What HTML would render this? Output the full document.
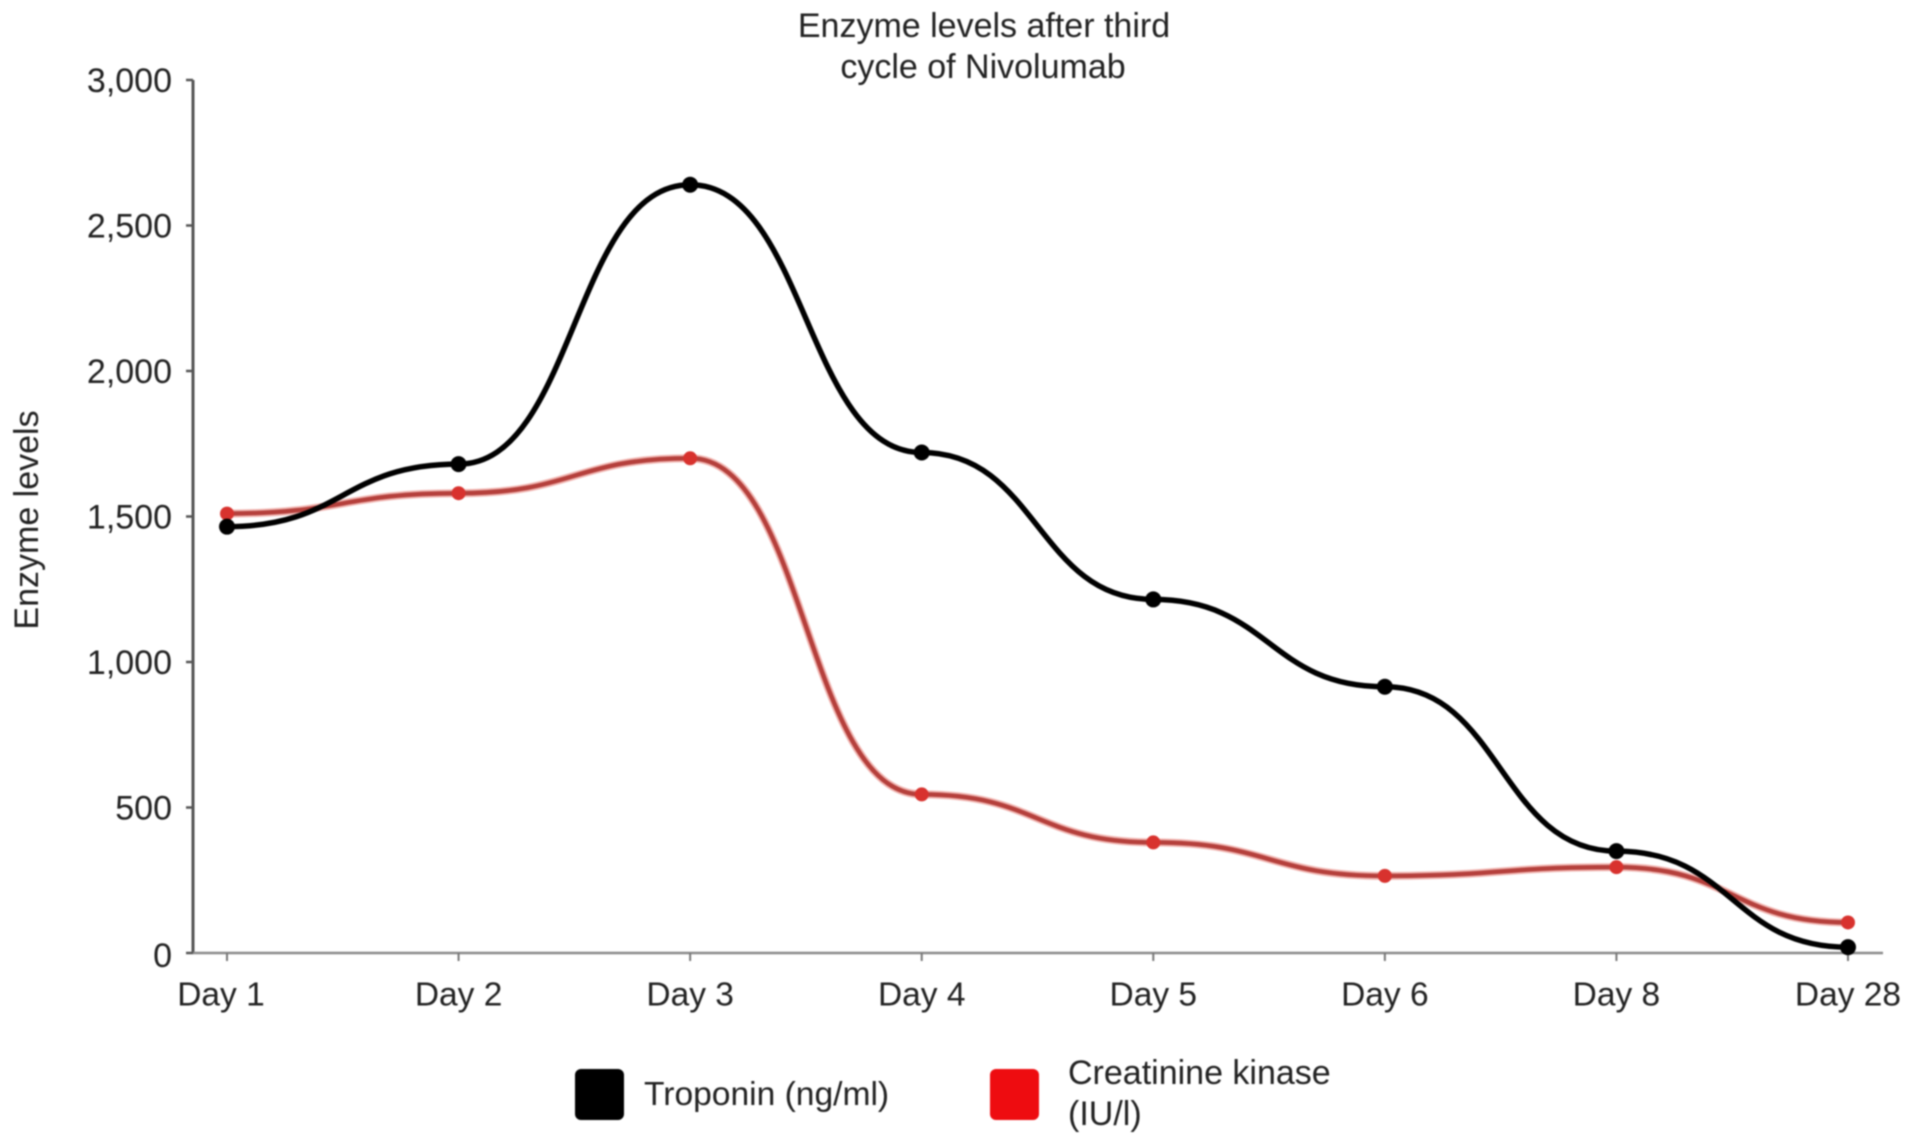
<!DOCTYPE html>
<html lang="en">
<head>
<meta charset="utf-8">
<title>Enzyme levels after third cycle of Nivolumab</title>
<style>
html,body{margin:0;padding:0;background:#fff;width:1913px;height:1145px;overflow:hidden}
svg{display:block;filter:blur(0.8px)}
text{font-family:"Liberation Sans",Arial,sans-serif;font-size:34px;fill:#222}
</style>
</head>
<body>
<svg id="chart" xmlns="http://www.w3.org/2000/svg" width="1913" height="1145" viewBox="0 0 1913 1145">
  <g>
    <text x="984" y="37" text-anchor="middle">Enzyme levels after third</text>
    <text x="983" y="78" text-anchor="middle">cycle of Nivolumab</text>
  </g>
  <text transform="translate(38,520) rotate(-90)" text-anchor="middle">Enzyme levels</text>
  <g id="axes"></g>
  <g id="series"></g>
  <g>
    <g>
      <rect x="575" y="1069" width="49" height="51" rx="6" fill="#000"/>
      <text x="644" y="1105" style="font-size:33.6px">Troponin (ng/ml)</text>
    </g>
    <g>
      <rect x="990" y="1069" width="49" height="51" rx="6" fill="#ee0c10"/>
      <text x="1068" y="1084">Creatinine kinase</text>
      <text x="1068" y="1125">(IU/l)</text>
    </g>
  </g>
</svg>
<script>
const categories = ["Day 1", "Day 2", "Day 3", "Day 4", "Day 5", "Day 6", "Day 8", "Day 28"];
const troponin = [1465, 1680, 2640, 1720, 1215, 915, 350, 20];
const creatinineKinase = [1510, 1580, 1700, 545, 380, 265, 295, 105];
const yTicks = [0, 500, 1000, 1500, 2000, 2500, 3000];

const NS = "http://www.w3.org/2000/svg";
const plot = { left: 193, right: 1883, top: 80, bottom: 953, firstX: 227, lastX: 1848, yMax: 3000 };
const xScale = i => plot.firstX + i * (plot.lastX - plot.firstX) / (categories.length - 1);
const yScale = v => plot.bottom - v / plot.yMax * (plot.bottom - plot.top);
const fmt = v => String(v).replace(/\B(?=(\d{3})+$)/g, ",");

function make(tag, attrs, parent) {
  const el = document.createElementNS(NS, tag);
  for (const k in attrs) el.setAttribute(k, attrs[k]);
  parent.appendChild(el);
  return el;
}

const axes = document.getElementById("axes");
const seriesLayer = document.getElementById("series");

const yAxisLine = make("line", { x1: plot.left, y1: plot.top, x2: plot.left, y2: plot.bottom, stroke: "#555", "stroke-width": 3 }, axes);


const xAxisLine = make("line", { x1: plot.left, y1: plot.bottom, x2: plot.right, y2: plot.bottom, stroke: "#8a8a8a", "stroke-width": 2.5 }, axes);



yTicks.forEach(v => {
  const y = yScale(v);
  const tick = make("line", { x1: plot.left - 7, y1: y, x2: plot.left, y2: y, stroke: "#555", "stroke-width": 2.5 }, axes);
  
  
  const label = make("text", { x: 172, y: y + (v === 0 ? 14 : 12), "text-anchor": "end" }, axes);
  label.textContent = fmt(v);
  
  
});

categories.forEach((c, i) => {
  const x = xScale(i);
  const tick = make("line", { x1: x, y1: plot.bottom, x2: x, y2: plot.bottom + 8, stroke: "#777", "stroke-width": 2 }, axes);
  
  
  const label = make("text", { x: i === 0 ? x - 6 : x, y: 1005.5, "text-anchor": "middle", style: "font-size:33.5px" }, axes);
  label.textContent = c;
  
  
});

function smoothPath(values) {
  let d = "M" + xScale(0) + " " + yScale(values[0]);
  for (let i = 1; i < values.length; i++) {
    const x0 = xScale(i - 1), x1 = xScale(i);
    const y0 = yScale(values[i - 1]), y1 = yScale(values[i]);
    const h = (x1 - x0) * 0.5;
    d += " C" + (x0 + h) + " " + y0 + " " + (x1 - h) + " " + y1 + " " + x1 + " " + y1;
  }
  return d;
}

function drawSeries(values, name, color, halo, marker, width, radius) {
  const g = make("g", {}, seriesLayer);
  
  
  if (halo) {
    const glow = make("path", { d: smoothPath(values), fill: "none", stroke: halo, "stroke-width": 8 }, g);
    
    
  }
  const line = make("path", { d: smoothPath(values), fill: "none", stroke: color, "stroke-width": width }, g);
  
  
  values.forEach((v, i) => {
    const pt = make("circle", { cx: xScale(i), cy: yScale(v), r: radius, fill: marker }, g);
    
    
  });
}

drawSeries(creatinineKinase, "creatinine-kinase", "#b5403c", "#f0b4b0", "#d8322e", 4.5, 7);
drawSeries(troponin, "troponin", "#000000", null, "#000000", 5.5, 8);
</script>
</body>
</html>
